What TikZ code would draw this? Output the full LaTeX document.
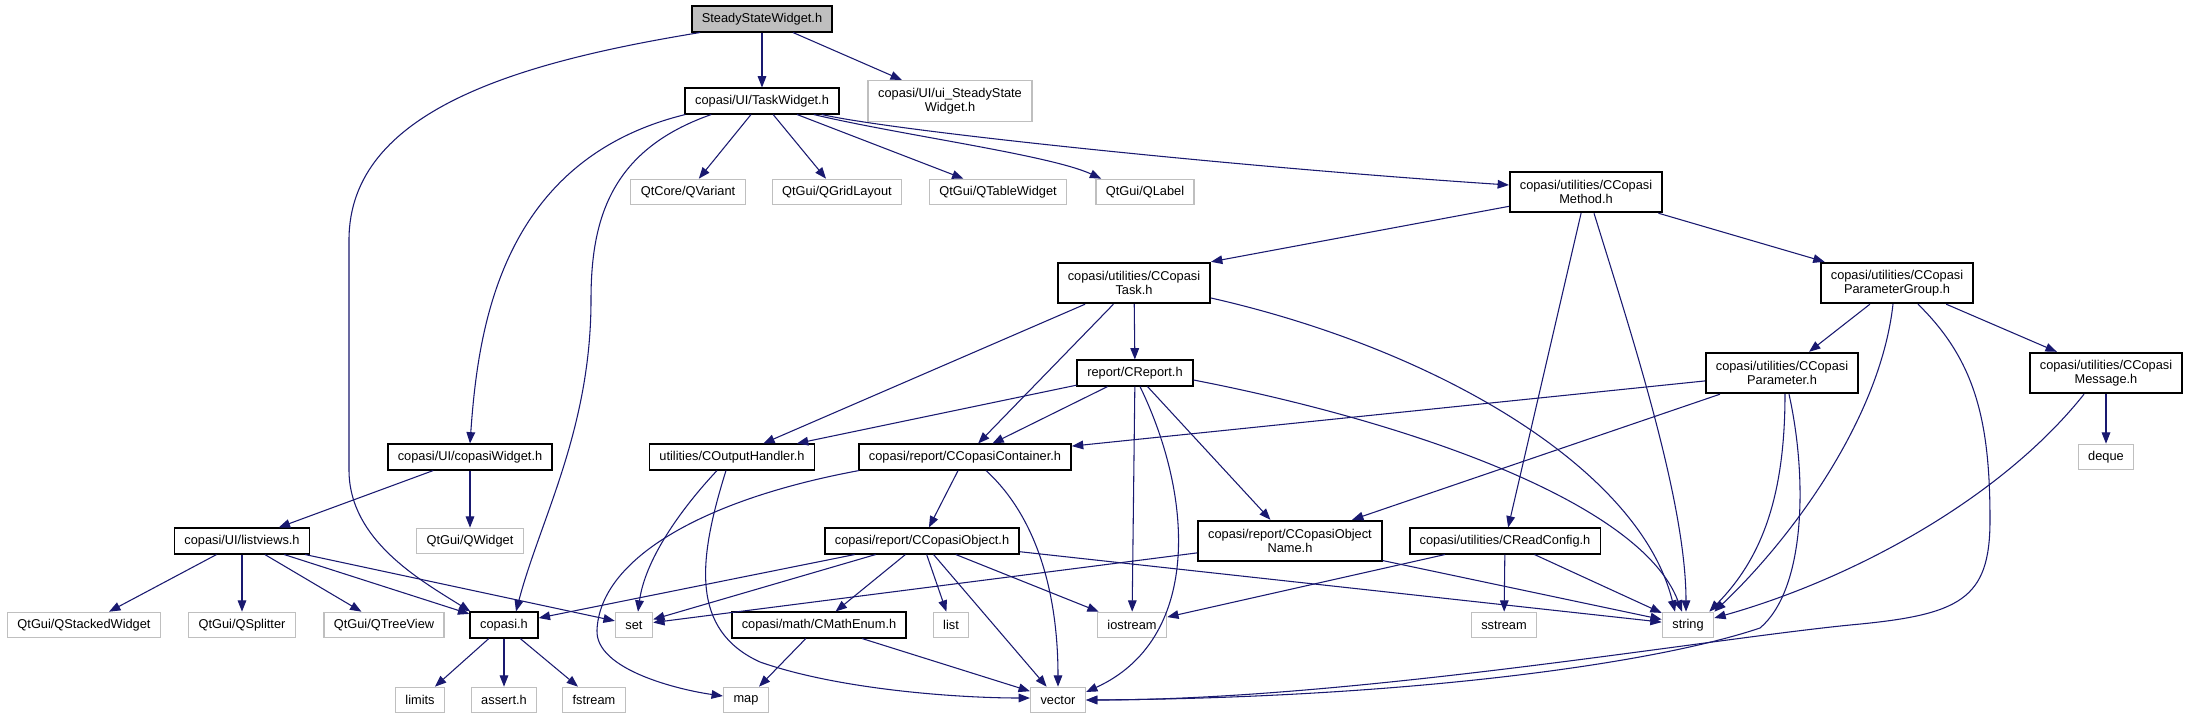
\documentclass[tikz,border=0pt]{standalone}
\usepackage{fontspec}
\setmainfont{Liberation Sans}
\usetikzlibrary{arrows.meta, calc}
\definecolor{depblue}{HTML}{191970}
\definecolor{extgray}{HTML}{BFBFBF}
\definecolor{rootgray}{HTML}{BFBFBF}
\newcommand{\hfont}{\fontsize{9.6pt}{10.7pt}\selectfont}
\tikzset{
    hfile/.style={draw=black, line width=1.3pt, fill=white, font=\hfont, align=center,
        inner xsep=7.5pt, inner ysep=1pt, minimum height=19pt},
    extfile/.style={hfile, draw=extgray, line width=1pt},
    rootfile/.style={hfile, fill=rootgray},
    twoline/.style={minimum height=30.5pt},
    dep/.style={draw=depblue, line width=0.8pt, -{Triangle[length=8.5pt,width=6.5pt]}},
}

\begin{document}
\begin{tikzpicture}[x=0.75pt, y=-0.75pt]
\path[use as bounding box, fill=white] (0,0) rectangle (2189,715);
% headers
\node[rootfile] (ssw) at (762,19) {SteadyStateWidget.h};
\node[hfile] (tw) at (762,101) {copasi/UI/TaskWidget.h};
\node[extfile, twoline] (uissw) at (950,101) {copasi/UI/ui\_SteadyState\\Widget.h};
\node[extfile] (qvar) at (688,192) {QtCore/QVariant};
\node[extfile] (qgrid) at (837,192) {QtGui/QGridLayout};
\node[extfile] (qtable) at (998,192) {QtGui/QTableWidget};
\node[extfile] (qlabel) at (1145,192) {QtGui/QLabel};
\node[hfile, twoline] (cmeth) at (1586,192) {copasi/utilities/CCopasi\\Method.h};
\node[hfile, twoline] (ctask) at (1134,283) {copasi/utilities/CCopasi\\Task.h};
\node[hfile, twoline] (pgroup) at (1897,283) {copasi/utilities/CCopasi\\ParameterGroup.h};
\node[hfile] (creport) at (1135,373) {report/CReport.h};
\node[hfile, twoline] (cparam) at (1782,373) {copasi/utilities/CCopasi\\Parameter.h};
\node[hfile, twoline] (cmsg) at (2106,373) {copasi/utilities/CCopasi\\Message.h};
\node[hfile] (cwid) at (470,457) {copasi/UI/copasiWidget.h};
\node[hfile] (outh) at (732,457) {utilities/COutputHandler.h};
\node[hfile] (ccont) at (965,457) {copasi/report/CCopasiContainer.h};
\node[extfile] (stddeque) at (2106,457) {deque};
\node[hfile] (lviews) at (242,541) {copasi/UI/listviews.h};
\node[extfile] (qwidget) at (470,541) {QtGui/QWidget};
\node[hfile] (cobj) at (922,541) {copasi/report/CCopasiObject.h};
\node[hfile, twoline] (cobjname) at (1290,541) {copasi/report/CCopasiObject\\Name.h};
\node[hfile] (creadcfg) at (1505,541) {copasi/utilities/CReadConfig.h};
% bottom rows
\node[extfile] (qstack) at (84,625) {QtGui/QStackedWidget};
\node[extfile] (qsplit) at (242,625) {QtGui/QSplitter};
\node[extfile] (qtree) at (384,625) {QtGui/QTreeView};
\node[hfile] (copasih) at (504,625) {copasi.h};
\node[extfile] (stdset) at (634,625) {set};
\node[hfile] (cmathenum) at (819,625) {copasi/math/CMathEnum.h};
\node[extfile] (stdlist) at (951,625) {list};
\node[extfile] (stdiostream) at (1132,625) {iostream};
\node[extfile] (stdsstream) at (1504,625) {sstream};
\node[extfile] (stdstring) at (1688,625) {string};
\node[extfile] (climits) at (420,700) {limits};
\node[extfile] (cassert) at (504,700) {assert.h};
\node[extfile] (cfstream) at (594,700) {fstream};
\node[extfile] (stdmap) at (746,700) {map};
\node[extfile] (stdvector) at (1058,700) {vector};

% straight includes
\foreach \a/\b in {ssw/tw, ssw/uissw, tw/qvar, tw/qgrid, tw/qtable, cmeth/pgroup, cmeth/creadcfg,
    ctask/outh, ctask/ccont, ctask/creport, creport/outh, creport/ccont, creport/stdiostream,
    creport/cobjname, pgroup/cparam, pgroup/cmsg, cparam/ccont, cparam/cobjname, cmsg/stddeque,
    cwid/lviews, cwid/qwidget, lviews/qstack, lviews/qsplit, lviews/qtree, lviews/copasih,
    lviews/stdset, copasih/climits, copasih/cassert, copasih/cfstream, ccont/cobj,
    cobj/copasih, cobj/stdset, cobj/cmathenum, cobj/stdlist, cobj/stdvector, cobj/stdiostream,
    cobj/stdstring, cobjname/stdset, cobjname/stdstring, cmathenum/stdmap, cmathenum/stdvector,
    creadcfg/stdiostream, creadcfg/stdsstream, creadcfg/stdstring} {
    \draw[dep] (\a) -- (\b);
}
\draw[dep] (cmeth) -- (ctask.north east);

% curved includes
\draw[dep] ($(ssw.south west)+(9,0)$) .. controls (520,62) and (349,110) .. (349,240)
    -- (349,470) .. controls (349,540) and (420,580) .. ($(copasih.north west)+(1,0)$);
\draw[dep] ($(tw.south west)+(1,0)$) .. controls (500,160) and (478,330) .. (cwid.north);
\draw[dep] ($(tw.south west)+(27,0)$) .. controls (610,150) and (591,220) .. (591,300)
    .. controls (591,430) and (540,520) .. ($(copasih.north)+(12,0)$);
\draw[dep] ($(tw.south east)+(-26,0)$) .. controls (900,135) and (1050,155) .. ($(qlabel.north west)+(6,0)$);
\draw[dep] ($(tw.south east)+(-18,0)$) .. controls (900,132) and (1250,168) .. ($(cmeth.west)+(0,-7)$);
\draw[dep] ($(cmeth.south)+(8,0)$) .. controls (1630,330) and (1686,500) .. ($(stdstring.north)+(-2,0)$);
\draw[dep] ($(ctask.east)+(0,15)$) .. controls (1440,350) and (1640,470) .. ($(stdstring.north)+(-13,0)$);
\draw[dep] ($(creport.south)+(5,0)$) .. controls (1195,500) and (1200,640) .. ($(stdvector.east)+(0,-8)$);
\draw[dep] ($(creport.east)+(0,7)$) .. controls (1400,420) and (1640,500) .. ($(stdstring.north)+(-6,0)$);
\draw[dep] ($(pgroup.south)+(-4,0)$) .. controls (1880,420) and (1790,540) .. (stdstring.north east);
\draw[dep] ($(pgroup.south)+(21,0)$) .. controls (1975,360) and (1990,420) .. (1990,520)
    .. controls (1990,600) and (1960,615) .. (1850,625) .. controls (1700,640) and (1350,700) .. (stdvector.east);
\draw[dep] ($(cparam.south)+(3,0)$) .. controls (1785,500) and (1760,560) .. ($(stdstring.north east)+(-5,0)$);
\draw[dep] ($(cparam.south)+(7,0)$) .. controls (1808,480) and (1805,590) .. (1760,628)
    .. controls (1650,665) and (1400,698) .. (stdvector.east);
\draw[dep] ($(cmsg.south)+(-22,0)$) .. controls (2000,500) and (1850,580) .. ($(stdstring.east)+(0,-7)$);
\draw[dep] ($(outh.south)+(-15,0)$) .. controls (680,510) and (645,560) .. ($(stdset.north)+(4,0)$);
\draw[dep] ($(outh.south)+(-6,0)$) .. controls (698,560) and (690,630) .. (760,662)
    .. controls (840,690) and (960,698) .. ($(stdvector.west)+(0,-2)$);
\draw[dep] ($(ccont.south west)+(1,0)$) .. controls (700,500) and (600,560) .. (597,630)
    .. controls (595,670) and (680,690) .. ($(stdmap.west)+(0,-4)$);
\draw[dep] ($(ccont.south)+(21,0)$) .. controls (1040,520) and (1058,600) .. (stdvector.north);
\end{tikzpicture}
\end{document}
